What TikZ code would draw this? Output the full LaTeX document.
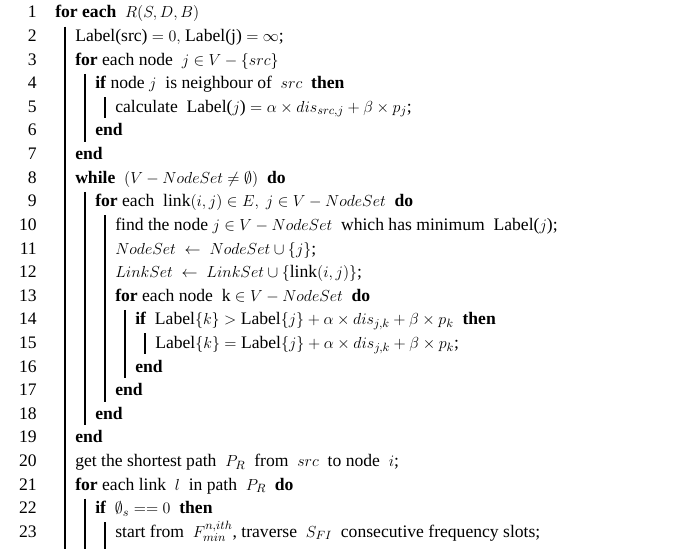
\documentclass[tikz,border=0pt]{standalone}
\usepackage{fontspec}
\setmainfont{Liberation Serif}
\begin{document}
\begin{tikzpicture}[x=0.75pt,y=-0.75pt,
  txt/.style={anchor=base west,inner sep=0pt,font=\fontsize{13.2}{15}\selectfont},
  num/.style={anchor=base east,inner sep=0pt,font=\fontsize{13.2}{15}\selectfont},
  bar/.style={line width=1.9pt},
  thinbar/.style={line width=1.1pt}]
\useasboundingbox (0,0) rectangle (693,549);
\newcommand\bl[1]{\fpeval{18+(#1-1)*23.6}}
\newcommand\Ln[3]{%
  \node[num] (n#1) at (37,\bl{#1}) {#1};
  \node[txt] (t#1) at (\fpeval{55+20*#2},\bl{#1}) {#3};}
\newcommand\Bar[5]{% name x from to style
  \coordinate (#1a) at (#2,\fpeval{\bl{#3}-15});
  \coordinate (#1b) at (#2,#4);
  \draw[#5] (#1a) -- (#1b);}
\Ln{1}{0}{\textbf{for each} \ $R(S,D,B)$}
\Ln{2}{1}{Label(src) $=0,$ Label(j) $=\infty$;}
\Ln{3}{1}{\textbf{for} each node \ $j\in V-\{src\}$}
\Ln{4}{2}{\textbf{if} node $j$ \ is neighbour of \ $src$ \ \textbf{then}}
\Ln{5}{3}{calculate \ Label($j$) $=\alpha\times dis_{src,j}+\beta\times p_j$;}
\Ln{6}{2}{\textbf{end}}
\Ln{7}{1}{\textbf{end}}
\Ln{8}{1}{\textbf{while} \ $(V-NodeSet\neq\emptyset)$ \ \textbf{do}}
\Ln{9}{2}{\textbf{for} each \ link$(i,j)\in E,\ j\in V-NodeSet$ \ \textbf{do}}
\Ln{10}{3}{find the node $j\in V-NodeSet$ \ which has minimum \ Label($j$);}
\Ln{11}{3}{$NodeSet\ \leftarrow\ NodeSet\cup\{j\}$;}
\Ln{12}{3}{$LinkSet\ \leftarrow\ LinkSet\cup\{\mathrm{link}(i,j)\}$;}
\Ln{13}{3}{\textbf{for} each node \ k $\in V-NodeSet$ \ \textbf{do}}
\Ln{14}{4}{\textbf{if} \ Label$\{k\}>$ Label$\{j\}+\alpha\times dis_{j,k}+\beta\times p_k$ \ \textbf{then}}
\Ln{15}{5}{Label$\{k\}=$ Label$\{j\}+\alpha\times dis_{j,k}+\beta\times p_k$;}
\Ln{16}{4}{\textbf{end}}
\Ln{17}{3}{\textbf{end}}
\Ln{18}{2}{\textbf{end}}
\Ln{19}{1}{\textbf{end}}
\Ln{20}{1}{get the shortest path \ $P_R$ \ from \ $src$ \ to node \ $i$;}
\Ln{21}{1}{\textbf{for} each link \ $l$ \ in path \ $P_R$ \ \textbf{do}}
\Ln{22}{2}{\textbf{if} \ $\emptyset_s==0$ \ \textbf{then}}
\Ln{23}{3}{start from \ $F_{min}^{n,ith}$, traverse \ $S_{FI}$ \ consecutive frequency slots;}
\Bar{A}{65}{2}{549}{bar}
\Bar{B}{85}{4}{\fpeval{\bl{6}+6}}{bar}
\Bar{C}{105}{5}{\fpeval{\bl{5}+6}}{thinbar}
\Bar{D}{85}{9}{\fpeval{\bl{18}+6}}{bar}
\Bar{E}{105}{10}{\fpeval{\bl{17}+6}}{bar}
\Bar{F}{125}{14}{\fpeval{\bl{16}+6}}{bar}
\Bar{G}{145}{15}{\fpeval{\bl{15}+6}}{thinbar}
\Bar{H}{85}{22}{549}{bar}
\Bar{I}{105}{23}{549}{thinbar}
\end{tikzpicture}
\end{document}
